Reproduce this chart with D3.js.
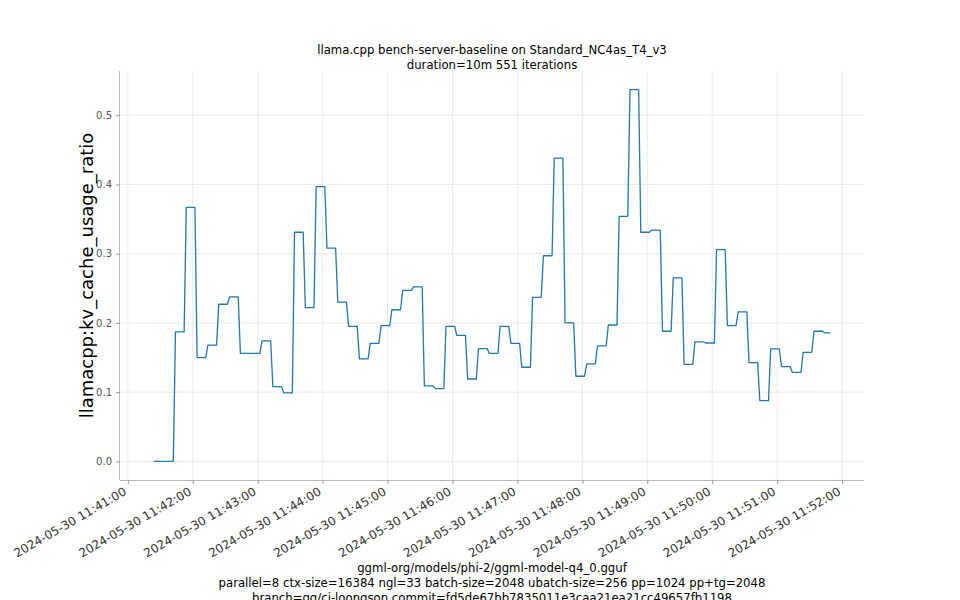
<!DOCTYPE html>
<html>
<head>
<meta charset="utf-8">
<script src="https://cdn.jsdelivr.net/npm/d3@7"></script>
<style>
    body { margin: 0; background: #fff; }
    text { font-family: "DejaVu Sans", sans-serif; }
</style>
</head>
<body>
<div id="svg-container"></div>
<script>
var w = 960;
var h = 600;

// each level of the metric: when it starts, when it ends, and the ratio held
var levelStart = ["11:41:24", "11:41:44", "11:41:54", "11:42:04", "11:42:14", "11:42:24", "11:42:34", "11:42:44",
    "11:43:04", "11:43:14", "11:43:24", "11:43:34", "11:43:44", "11:43:54", "11:44:04", "11:44:14",
    "11:44:24", "11:44:34", "11:44:44", "11:44:54", "11:45:04", "11:45:14", "11:45:24", "11:45:34",
    "11:45:44", "11:45:54", "11:46:04", "11:46:14", "11:46:24", "11:46:34", "11:46:44", "11:46:54",
    "11:47:04", "11:47:14", "11:47:24", "11:47:34", "11:47:44", "11:47:54", "11:48:04", "11:48:14",
    "11:48:24", "11:48:34", "11:48:44", "11:48:54", "11:49:04", "11:49:14", "11:49:24", "11:49:34",
    "11:49:44", "11:49:54", "11:50:04", "11:50:14", "11:50:24", "11:50:34", "11:50:44", "11:50:54",
    "11:51:04", "11:51:14", "11:51:24", "11:51:34", "11:51:44"];

var levelEnd = ["11:41:42", "11:41:52", "11:42:02", "11:42:12", "11:42:22", "11:42:32", "11:42:42", "11:43:02",
    "11:43:12", "11:43:22", "11:43:32", "11:43:42", "11:43:52", "11:44:02", "11:44:12", "11:44:22",
    "11:44:32", "11:44:42", "11:44:52", "11:45:02", "11:45:12", "11:45:22", "11:45:32", "11:45:42",
    "11:45:52", "11:46:02", "11:46:12", "11:46:22", "11:46:32", "11:46:42", "11:46:52", "11:47:02",
    "11:47:12", "11:47:22", "11:47:32", "11:47:42", "11:47:52", "11:48:02", "11:48:12", "11:48:22",
    "11:48:32", "11:48:42", "11:48:52", "11:49:02", "11:49:12", "11:49:22", "11:49:32", "11:49:42",
    "11:49:52", "11:50:02", "11:50:12", "11:50:22", "11:50:32", "11:50:42", "11:50:52", "11:51:02",
    "11:51:12", "11:51:22", "11:51:32", "11:51:42", "11:51:49"];

var levelValue = [0, 0.187, 0.367, 0.150, 0.168, 0.227, 0.2375, 0.156,
    0.174, 0.108, 0.099, 0.331, 0.222, 0.397, 0.308, 0.230,
    0.195, 0.148, 0.1705, 0.196, 0.219, 0.247, 0.252, 0.109,
    0.105, 0.195, 0.182, 0.119, 0.163, 0.156, 0.195, 0.1705,
    0.136, 0.237, 0.297, 0.438, 0.200, 0.123, 0.141, 0.167,
    0.197, 0.354, 0.537, 0.331, 0.334, 0.188, 0.265, 0.140,
    0.1725, 0.171, 0.306, 0.196, 0.216, 0.1426, 0.0877, 0.1624,
    0.137, 0.1286, 0.1575, 0.188, 0.1855];

var yTicks = [0, 0.1, 0.2, 0.3, 0.4, 0.5];

var titleLines = ["llama.cpp bench-server-baseline on Standard_NC4as_T4_v3", "duration=10m 551 iterations"];
var yLabel = "llamacpp:kv_cache_usage_ratio";
var footLines = ["ggml-org/models/phi-2/ggml-model-q4_0.gguf",
    "parallel=8 ctx-size=16384 ngl=33 batch-size=2048 ubatch-size=256 pp=1024 pp+tg=2048",
    "branch=gg/ci-loongson commit=fd5de67bb7835011e3caa21ea21cc49657fb1198"];

var day = "2024-05-30 ";
var parseTime = d3.timeParse("%Y-%m-%d %H:%M:%S");

// plot area (don't call it "top", that one belongs to window)
var plotLeft = 120, plotRight = 864, plotTop = 71, plotBottom = 480;

var points = [];
for (var i = 0; i < levelValue.length; i++) {
    points.push({ t: parseTime(day + levelStart[i]), v: levelValue[i] });
    points.push({ t: parseTime(day + levelEnd[i]), v: levelValue[i] });
}

// 5% margins around the data, like the original plot
var padExtent = function(ext) {
    var pad = (ext[1] - ext[0]) * 0.05;
    return [ext[0] - pad, ext[1] + pad];
};

var tExt = d3.extent(points, function(d) { return +d.t; });
var xScale = d3.scaleTime()
    .domain(padExtent(tExt).map(function(d) { return new Date(d); }))
    .range([plotLeft, plotRight]);

var yScale = d3.scaleLinear()
    .domain(padExtent(d3.extent(points, function(d) { return d.v; })))
    .range([plotBottom, plotTop]);

var svg = d3.select("#svg-container")
    .append("svg")
    .attr("width", w)
    .attr("height", h);

var xTicks = xScale.ticks(d3.timeMinute.every(1));

// grid
var grid = svg.append("g").attr("class", "grid");

grid.selectAll("line.v")
    .data(xTicks)
    .enter().append("line")
    .attr("class", "v")
    .attr("x1", function(d) { return xScale(d); })
    .attr("x2", function(d) { return xScale(d); })
    .attr("y1", plotTop)
    .attr("y2", plotBottom)
    .attr("stroke", "#e6e6e6")
    .attr("stroke-width", 0.8);

grid.selectAll("line.h")
    .data(yTicks)
    .enter().append("line")
    .attr("class", "h")
    .attr("x1", plotLeft)
    .attr("x2", plotRight)
    .attr("y1", function(d) { return yScale(d); })
    .attr("y2", function(d) { return yScale(d); })
    .attr("stroke", "#e6e6e6")
    .attr("stroke-width", 0.8);

// axes
var xAxisGen = d3.axisBottom(xScale)
    .tickValues(xTicks)
    .tickSize(4)
    .tickFormat(d3.timeFormat("%Y-%m-%d %H:%M:%S"));

var xAxis = svg.append("g")
    .attr("class", "x-axis")
    .attr("transform", "translate(0," + plotBottom + ")")
    .call(xAxisGen);

xAxis.select(".domain").attr("d", "M" + plotLeft + ",0.5H" + plotRight).attr("stroke", "#bbb");
xAxis.selectAll(".tick line").attr("stroke", "#999");
xAxis.selectAll(".tick text")
    .attr("font-size", 12)
    .attr("fill", "#333")
    .attr("text-anchor", "end")
    .attr("dy", null)
    .attr("y", 0)
    .attr("transform", "translate(-1,14) rotate(-30)");

var yAxisGen = d3.axisLeft(yScale)
    .tickValues(yTicks)
    .tickSize(4)
    .tickPadding(4)
    .tickFormat(d3.format(".1f"));

var yAxis = svg.append("g")
    .attr("class", "y-axis")
    .attr("transform", "translate(" + plotLeft + ",0)")
    .call(yAxisGen);

yAxis.select(".domain").attr("d", "M-0.5," + plotTop + "V" + plotBottom).attr("stroke", "#bbb");
yAxis.selectAll(".tick line").attr("stroke", "#999");
yAxis.selectAll(".tick text")
    .attr("font-size", 10)
    .attr("fill", "#555");

// the series
var line = d3.line()
    .x(function(d) { return xScale(d.t); })
    .y(function(d) { return yScale(d.v); });

svg.append("path")
    .datum(points)
    .attr("d", line)
    .attr("fill", "none")
    .attr("stroke", "#1f77b4")
    .attr("stroke-width", 1.3)
    .attr("stroke-linejoin", "round");

// texts
var midX = (plotLeft + plotRight) / 2;

svg.selectAll("text.title")
    .data(titleLines)
    .enter().append("text")
    .attr("class", "title")
    .attr("x", midX)
    .attr("y", function(d, i) { return 54 + i * 15; })
    .attr("text-anchor", "middle")
    .attr("font-size", 11.7)
    .text(function(d) { return d; });

svg.append("text")
    .attr("transform", "translate(93," + ((plotTop + plotBottom) / 2) + ") rotate(-90)")
    .attr("text-anchor", "middle")
    .attr("font-size", 18)
    .text(yLabel);

svg.selectAll("text.foot")
    .data(footLines)
    .enter().append("text")
    .attr("class", "foot")
    .attr("x", midX)
    .attr("y", function(d, i) { return 572 + i * 15; })
    .attr("text-anchor", "middle")
    .attr("font-size", 11.7)
    .text(function(d) { return d; });
</script>
</body>
</html>
